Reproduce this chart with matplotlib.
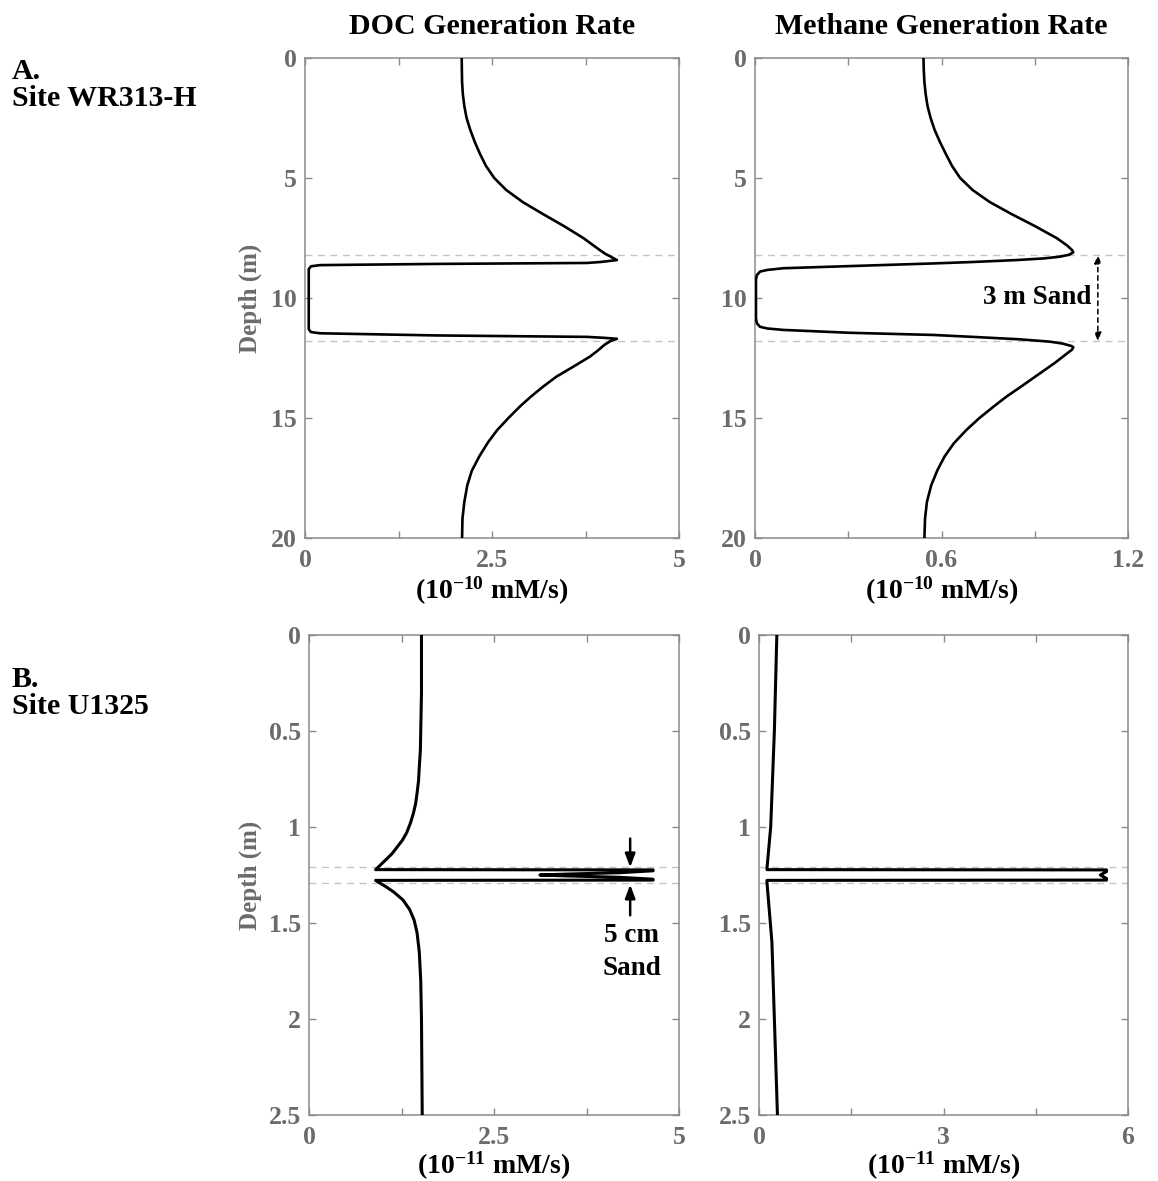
import matplotlib
matplotlib.use("Agg")
import matplotlib.pyplot as plt

plt.rcParams['font.family'] = ['Liberation Serif', 'DejaVu Serif']
plt.rcParams['font.weight'] = 'bold'
plt.rcParams['mathtext.fontset'] = 'custom'
plt.rcParams['mathtext.rm'] = 'Liberation Serif:bold'
plt.rcParams['mathtext.bf'] = 'Liberation Serif:bold'
plt.rcParams['mathtext.it'] = 'Liberation Serif:bold'

# ---------------- data ----------------
# A. Site WR313-H, DOC generation rate (1e-10 mM/s) vs depth (m)
doc_a_depth = [0.0, 0.5, 1.0, 1.5, 2.0, 2.5, 3.0, 3.5, 4.0, 4.5, 5.0, 5.5, 6.0, 6.5, 7.0,
               7.5, 8.0, 8.15, 8.3, 8.42, 8.5, 8.54, 8.58, 8.63, 8.68, 8.8,
               11.3, 11.42, 11.47, 11.56, 11.62, 11.66, 11.70, 11.8, 11.96, 12.2,
               12.44, 12.8, 13.28, 13.7, 14.11, 14.5, 15.0, 15.5, 16.0, 16.6, 17.2,
               17.8, 18.5, 19.2, 20.0]
doc_a_rate = [2.095, 2.097, 2.10, 2.11, 2.13, 2.16, 2.21, 2.27, 2.34, 2.42, 2.53, 2.69,
              2.91, 3.18, 3.46, 3.72, 3.94, 4.01, 4.10, 4.17, 3.95, 3.77, 1.76, 0.2,
              0.08, 0.05, 0.05, 0.08, 0.2, 1.76, 3.77, 4.0, 4.17, 4.08, 4.0, 3.91,
              3.81, 3.62, 3.36, 3.18, 3.02, 2.88, 2.72, 2.57, 2.45, 2.33, 2.23,
              2.17, 2.13, 2.105, 2.10]

# A. Site WR313-H, methane generation rate (1e-10 mM/s)
ch4_a_depth = [0.0, 0.5, 1.0, 1.5, 2.0, 2.5, 3.0, 3.5, 4.0, 4.5, 5.0, 5.5, 6.0, 6.5, 7.0,
               7.5, 7.8, 8.0, 8.1, 8.2, 8.28, 8.35, 8.42, 8.5, 8.56, 8.67, 8.76, 8.83,
               8.9, 9.05, 9.25, 10.85, 11.05, 11.2, 11.27, 11.33, 11.45, 11.54, 11.62,
               11.72, 11.82, 11.9, 12.0, 12.05, 12.15, 12.3, 12.7, 13.2, 13.7, 14.1,
               14.5, 15.0, 15.5, 16.05, 16.6, 17.17, 17.8, 18.5, 19.2, 20.0]
ch4_a_rate = [0.542, 0.543, 0.545, 0.549, 0.555, 0.565, 0.578, 0.595, 0.614, 0.634, 0.66,
              0.70, 0.755, 0.825, 0.90, 0.97, 1.003, 1.02, 1.024, 1.01, 0.98, 0.93,
              0.84, 0.70, 0.574, 0.306, 0.091, 0.04, 0.016, 0.006, 0.003, 0.003,
              0.006, 0.016, 0.04, 0.091, 0.306, 0.574, 0.70, 0.85, 0.949, 0.99,
              1.018, 1.024, 1.02, 1.005, 0.965, 0.91, 0.855, 0.81, 0.77, 0.722,
              0.68, 0.64, 0.61, 0.587, 0.567, 0.553, 0.547, 0.545]

# B. Site U1325, DOC generation rate (1e-11 mM/s)
doc_b_depth = [0.0, 0.3, 0.5, 0.6, 0.69, 0.76, 0.825, 0.88, 0.93, 0.98, 1.03, 1.07, 1.10,
               1.14, 1.17, 1.20, 1.222, 1.2235, 1.228, 1.238, 1.245, 1.25, 1.255, 1.262,
               1.272, 1.2765, 1.278, 1.29, 1.311, 1.34, 1.38, 1.43, 1.484, 1.55, 1.65,
               1.8, 2.0, 2.25, 2.5]
doc_b_rate = [1.52, 1.52, 1.51, 1.505, 1.49, 1.48, 1.46, 1.44, 1.41, 1.37, 1.32, 1.26,
              1.20, 1.12, 1.04, 0.96, 0.90, 4.65, 4.65, 4.2, 3.5, 3.12, 3.5, 4.2,
              4.65, 4.65, 0.90, 0.95, 1.04, 1.15, 1.27, 1.36, 1.42, 1.46, 1.49,
              1.51, 1.52, 1.525, 1.53]

# B. Site U1325, methane generation rate (1e-11 mM/s)
ch4_b_depth = [0.0, 0.5, 1.0, 1.215, 1.222, 1.2235, 1.232, 1.25, 1.268, 1.2765, 1.278,
               1.29, 1.6, 1.9, 2.5]
ch4_b_rate = [0.29, 0.25, 0.19, 0.13, 0.13, 5.65, 5.65, 5.55, 5.65, 5.65, 0.13,
              0.13, 0.21, 0.24, 0.30]

sand_a = [8.2, 11.8]
sand_b = [1.21, 1.29]

xticks_doc_a = [0, 1.25, 2.5, 3.75, 5]
xlabels_doc_a = ['0', '', '2.5', '', '5']
xticks_ch4_a = [0, 0.3, 0.6, 0.9, 1.2]
xlabels_ch4_a = ['0', '', '0.6', '', '1.2']
xticks_doc_b = [0, 1.25, 2.5, 3.75, 5]
xlabels_doc_b = ['0', '', '2.5', '', '5']
xticks_ch4_b = [0, 1.5, 3, 4.5, 6]
xlabels_ch4_b = ['0', '', '3', '', '6']
yticks_a = [0, 5, 10, 15, 20]
ylabels_a = ['0', '5', '10', '15', '20']
yticks_b = [0, 0.5, 1.0, 1.5, 2.0, 2.5]
ylabels_b = ['0', '0.5', '1', '1.5', '2', '2.5']

# ---------------- figure ----------------
W, H = 1158, 1181
fig = plt.figure(figsize=(W / 100, H / 100), dpi=100)

def px_axes(l, t, r, b):
    return fig.add_axes([l / W, 1 - b / H, (r - l) / W, (b - t) / H])

GRAY = '#6b6b6b'
SPINE = '#8a8a8a'
FS_TICK = 18.5
FS_LAB = 20
FS_TITLE = 21.5

def style(ax, xt, xl, xlim, yt, yl, ylim):
    ax.set_xlim(*xlim)
    ax.set_ylim(ylim[1], ylim[0])
    ax.set_xticks(xt)
    ax.set_xticklabels(xl)
    ax.set_yticks(yt)
    ax.set_yticklabels(yl)
    ax.tick_params(direction='in', length=5, width=1, color=SPINE,
                   labelcolor=GRAY, labelsize=FS_TICK, top=True, right=True)
    ax.tick_params(axis='x', pad=8)
    ax.tick_params(axis='y', pad=6)
    for lab in ax.get_xticklabels() + ax.get_yticklabels():
        lab.set_fontweight('bold')
    for s in ax.spines.values():
        s.set_color(SPINE)
        s.set_linewidth(1.1)

ax1 = px_axes(305, 58, 679, 538)
ax2 = px_axes(755, 58, 1128, 538)
ax3 = px_axes(309, 635, 679, 1115)
ax4 = px_axes(759, 635, 1128, 1115)

for ax, (xd, yd), xt, xl, xlim, yt, yl, ylim, sand, lw in [
        (ax1, (doc_a_rate, doc_a_depth), xticks_doc_a, xlabels_doc_a, (0, 5), yticks_a, ylabels_a, (0, 20), sand_a, 1.9),
        (ax2, (ch4_a_rate, ch4_a_depth), xticks_ch4_a, xlabels_ch4_a, (0, 1.2), yticks_a, ylabels_a, (0, 20), sand_a, 1.9),
        (ax3, (doc_b_rate, doc_b_depth), xticks_doc_b, xlabels_doc_b, (0, 5), yticks_b, ylabels_b, (0, 2.5), sand_b, 2.2),
        (ax4, (ch4_b_rate, ch4_b_depth), xticks_ch4_b, xlabels_ch4_b, (0, 6), yticks_b, ylabels_b, (0, 2.5), sand_b, 2.2)]:
    for s in sand:
        ax.axhline(s, color='#c4c4c4', lw=1.0, ls=(0, (5, 4)), zorder=1)
    ax.plot(xd, yd, color='black', lw=lw, solid_joinstyle='round', zorder=3)
    style(ax, xt, xl, xlim, yt, yl, ylim)

# titles
fig.text((305 + 679) / 2 / W, 1 - 34 / H, 'DOC Generation Rate', ha='center', va='baseline',
         fontsize=FS_TITLE, fontweight='bold', color='black')
fig.text((755 + 1128) / 2 / W, 1 - 34 / H, 'Methane Generation Rate', ha='center', va='baseline',
         fontsize=FS_TITLE, fontweight='bold', color='black')

# x labels
for (l, r), base, lab in [((305, 679), 599, r'(10$^{-10}$ mM/s)'), ((755, 1128), 599, r'(10$^{-10}$ mM/s)'),
                          ((309, 679), 1174, r'(10$^{-11}$ mM/s)'), ((759, 1128), 1174, r'(10$^{-11}$ mM/s)')]:
    fig.text((l + r) / 2 / W, 1 - base / H, lab, ha='center', va='baseline',
             fontsize=FS_LAB, fontweight='bold', color='black')

# y labels
for t, b in [(58, 538), (635, 1115)]:
    fig.text(250 / W, 1 - (t + b) / 2 / H, 'Depth (m)', rotation=90, ha='center', va='center',
             fontsize=18, fontweight='bold', color=GRAY)

# site labels
fig.text(12 / W, 1 - 79 / H, 'A.', ha='left', va='baseline', fontsize=FS_TITLE, fontweight='bold')
fig.text(12 / W, 1 - 106 / H, 'Site WR313-H', ha='left', va='baseline', fontsize=FS_TITLE, fontweight='bold')
fig.text(12 / W, 1 - 687 / H, 'B.', ha='left', va='baseline', fontsize=FS_TITLE, fontweight='bold')
fig.text(12 / W, 1 - 714 / H, 'Site U1325', ha='left', va='baseline', fontsize=FS_TITLE, fontweight='bold')

# annotations
ax2.annotate('', xy=(1.103, sand_a[0]), xytext=(1.103, sand_a[1]),
             arrowprops=dict(arrowstyle='<|-|>,head_length=0.5,head_width=0.2', ls=(0, (3, 2.5)),
                             lw=1.1, color='black', shrinkA=0, shrinkB=0))
ax2.text(1.083, 10.0, '3 m Sand', ha='right', va='center', fontsize=19.5, fontweight='bold')

ax3.annotate('', xy=(4.34, 1.21), xytext=(4.34, 1.06),
             arrowprops=dict(arrowstyle='-|>,head_length=0.8,head_width=0.3', lw=1.8,
                             color='black', shrinkA=0, shrinkB=0))
ax3.annotate('', xy=(4.34, 1.30), xytext=(4.34, 1.46),
             arrowprops=dict(arrowstyle='-|>,head_length=0.8,head_width=0.3', lw=1.8,
                             color='black', shrinkA=0, shrinkB=0))
ax3.text(4.36, 1.5625, '5 cm', ha='center', va='center', fontsize=19.5, fontweight='bold')
ax3.text(4.36, 1.736, 'Sand', ha='center', va='center', fontsize=19.5, fontweight='bold')

fig.savefig('out.png', dpi=100)
